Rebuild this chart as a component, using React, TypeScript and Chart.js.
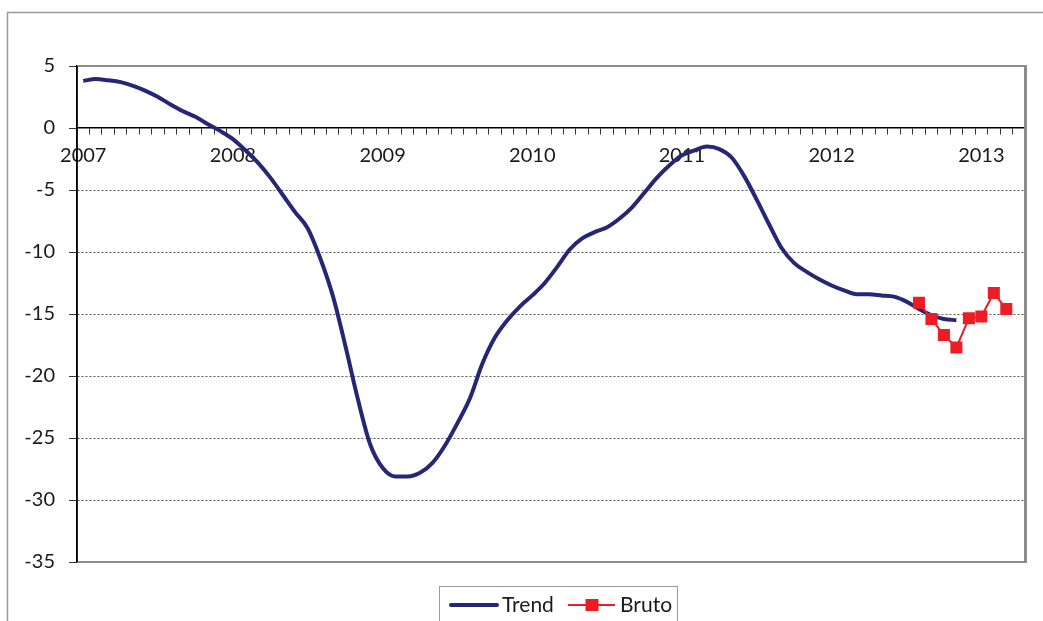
import React, { useEffect, useRef } from "react";
import { Chart, registerables } from "chart.js";

Chart.register(...registerables);

const yearLabels = ["2007", "2008", "2009", "2010", "2011", "2012", "2013"];
const monthsPerYear = 12;
const categoryCount = 76; // Jan 2007 .. Apr 2013
const categories: string[] = Array.from({ length: categoryCount }, (_, i) =>
  `${yearLabels[Math.floor(i / monthsPerYear)]}-${String((i % monthsPerYear) + 1).padStart(2, "0")}`
);

const trendValues: (number | null)[] = [
  3.8, 3.95, 3.85, 3.7, 3.4, 3.0, 2.5, 1.9, 1.35, 0.9, 0.3, -0.25,
  -0.9, -1.8, -2.8, -4.0, -5.4, -6.8, -8.1, -10.5, -13.5, -17.5, -21.8, -25.5,
  -27.4, -28.1, -28.1, -27.8, -27.0, -25.6, -23.8, -21.8, -19.0, -16.9, -15.5, -14.4,
  -13.5, -12.5, -11.2, -9.8, -8.9, -8.4, -8.0, -7.3, -6.4, -5.2, -4.0, -3.0,
  -2.2, -1.8, -1.5, -1.7, -2.4, -3.9, -5.8, -7.8, -9.7, -10.9, -11.6, -12.2,
  -12.7, -13.1, -13.4, -13.4, -13.5, -13.6, -14.0, -14.6, -15.1, -15.4, -15.5,
  null, null, null, null, null,
];

const brutoValues: (number | null)[] = [
  ...Array(67).fill(null),
  -14.1, -15.4, -16.7, -17.7, -15.35, -15.2, -13.3, -14.6,
  null,
];

const seriesNames = ["Trend", "Bruto"];
const trendColor = "#262677";
const brutoColor = "#ee1c24";
const fontFamily = "Lato, 'Open Sans', sans-serif";

const framePlugin = {
  id: "frameAndLegend",
  beforeDraw(chart: any) {
    const ctx = chart.ctx;
    ctx.save();
    ctx.fillStyle = "#ffffff";
    ctx.fillRect(0, 0, chart.width, chart.height);
    ctx.strokeStyle = "#9a9a9a";
    ctx.lineWidth = 1.5;
    ctx.beginPath();
    ctx.moveTo(7.5, chart.height + 2);
    ctx.lineTo(7.5, 12.5);
    ctx.lineTo(chart.width + 2, 12.5);
    ctx.stroke();
    ctx.restore();
  },
  afterDraw(chart: any) {
    const ctx = chart.ctx;
    const { left, right, top, bottom } = chart.chartArea;
    ctx.save();
    ctx.strokeStyle = "#8c8c8c";
    ctx.lineWidth = 2;
    ctx.beginPath();
    ctx.moveTo(left, top);
    ctx.lineTo(right, top);
    ctx.stroke();
    ctx.beginPath();
    ctx.moveTo(left, bottom);
    ctx.lineTo(right + 1, bottom);
    ctx.stroke();
    ctx.lineWidth = 3;
    ctx.beginPath();
    ctx.moveTo(right + 0.5, top - 1);
    ctx.lineTo(right + 0.5, bottom + 1);
    ctx.stroke();

    ctx.strokeStyle = "#000";
    ctx.lineWidth = 1.5;
    ctx.beginPath();
    ctx.moveTo(left, top);
    ctx.lineTo(left, bottom);
    ctx.stroke();

    // legend
    const lx = 439.5, ly = 586.5, lw = 238, lh = 50;
    ctx.strokeStyle = "#9a9a9a";
    ctx.lineWidth = 1;
    ctx.strokeRect(lx, ly, lw, lh);
    const cy = 605;
    ctx.lineCap = "round";
    ctx.strokeStyle = trendColor;
    ctx.lineWidth = 4;
    ctx.beginPath();
    ctx.moveTo(451, cy);
    ctx.lineTo(497, cy);
    ctx.stroke();
    ctx.lineCap = "butt";
    ctx.font = `21px ${fontFamily}`;
    ctx.fillStyle = "#1a1a1a";
    ctx.textBaseline = "middle";
    ctx.textAlign = "left";
    ctx.fillText(seriesNames[0], 502, cy);
    ctx.strokeStyle = brutoColor;
    ctx.lineWidth = 2;
    ctx.beginPath();
    ctx.moveTo(568, cy);
    ctx.lineTo(615, cy);
    ctx.stroke();
    ctx.fillStyle = brutoColor;
    ctx.fillRect(585.5, cy - 6, 13, 12);
    ctx.fillStyle = "#1a1a1a";
    ctx.fillText(seriesNames[1], 620, cy);
    ctx.restore();
  },
};

export default function App() {
  const canvasRef = useRef<HTMLCanvasElement | null>(null);

  useEffect(() => {
    document.body.style.margin = "0";
    const canvas = canvasRef.current;
    if (!canvas) return;
    Chart.defaults.font.family = fontFamily;
    const chart = new Chart(canvas, {
      type: "line",
      data: {
        labels: categories,
        datasets: [
          {
            label: seriesNames[0],
            data: trendValues,
            borderColor: trendColor,
            backgroundColor: trendColor,
            borderWidth: 4,
            pointRadius: 0,
            cubicInterpolationMode: "monotone",
            spanGaps: false,
            order: 2,
          },
          {
            label: seriesNames[1],
            data: brutoValues,
            borderColor: brutoColor,
            backgroundColor: brutoColor,
            borderWidth: 2,
            pointStyle: "rect",
            pointRadius: 8.5,
            pointBorderWidth: 0,
            pointBackgroundColor: brutoColor,
            order: 1,
          },
        ],
      },
      options: {
        animation: false,
        responsive: false,
        maintainAspectRatio: false,
        layout: { padding: { left: 0, right: 18, top: 66, bottom: 59 } },
        plugins: {
          legend: { display: false },
          tooltip: { enabled: false },
        },
        scales: {
          x: {
            type: "category",
            position: { y: 0 },
            offset: true,
            grid: {
              offset: true,
              drawOnChartArea: false,
              drawTicks: true,
              tickLength: 6,
              tickColor: "#333",
              tickWidth: 1,
            },
            border: { display: true, color: "#000", width: 1.5 },
            ticks: {
              autoSkip: false,
              maxRotation: 0,
              minRotation: 0,
              padding: 10,
              color: "#1a1a1a",
              font: { size: 20, family: fontFamily },
              callback: (_v: any, i: number) =>
                i % monthsPerYear === 0 ? yearLabels[i / monthsPerYear] : "",
            },
          },
          y: {
            min: -35,
            max: 5,
            afterFit: (scale: any) => {
              scale.width = 77;
            },
            grid: {
              color: (c: any) => {
                const v = c.tick ? c.tick.value : null;
                if (v === 0 || v === 5 || v === -35) return "rgba(0,0,0,0)";
                return "#5a5a5a";
              },
              lineWidth: 1,
              tickLength: 8,
              tickColor: "#333",
              tickBorderDash: [],
            },
            border: { display: true, color: "#000", width: 1.5, dash: [2, 2] },
            ticks: {
              stepSize: 5,
              padding: 14,
              color: "#1a1a1a",
              font: { size: 20, family: fontFamily },
            },
          },
        },
      },
      plugins: [framePlugin],
    } as any);
    return () => chart.destroy();
  }, []);

  return (
    <canvas
      ref={canvasRef}
      width={1043}
      height={621}
      style={{ position: "absolute", left: 0, top: 0, width: 1043, height: 621, display: "block" }}
    />
  );
}
